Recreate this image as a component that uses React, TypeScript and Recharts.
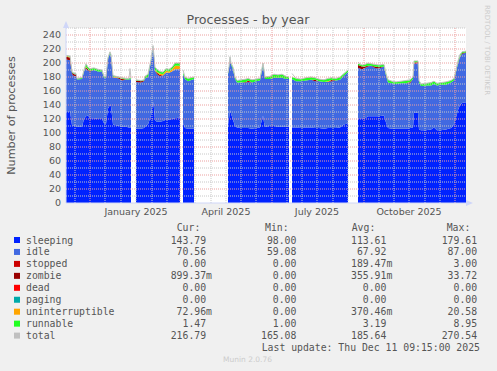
import React from 'react';
import { ComposedChart, Area, Line, XAxis, YAxis, CartesianGrid, ReferenceLine } from 'recharts';

// day index 0 = 7 Nov 2024 (one day per pixel column); null = no data (gap)
const days = [
  0, 4, 6, 7, 10, 11, 16, 18, 20, 22, 24, 28, 32, 36, 38, 40, 42, 44, 45, 47, 50, 53, 56, 60, 63, 64, 65, 67,
  70, 75, 78, 79, 82, 85, 87, 88, 89, 91, 94, 97, 100, 103, 106, 109, 114, 115.5,
  117, 119, 122, 128, 145,
  162, 163, 164, 165, 167, 169, 171, 175, 180, 182, 186, 190, 194, 197, 198, 199, 204, 208, 212, 216, 220, 223, 224.5,
  226, 230, 235, 240, 245, 249, 253, 258, 262, 266, 270, 274, 278, 282, 287,
  292, 296, 299, 302, 305, 309, 313, 318, 320, 322, 326, 330, 335, 340, 344, 347, 348, 350, 352, 353,
  355, 360, 365, 368, 371, 375, 380, 385, 388, 390, 392, 394, 396, 400,
];

const sleeping = [
  131, 131, 111, 111, 110, 109, 109, 120, 124, 125, 121, 121, 120, 120, 114, 113, 135, 140, 138, 112, 111, 110, 109, 109, 108, 108, 108, null,
  106, 106, 107, 109, 112, 125, 145, 135, 118, 116, 116, 117, 119, 119, 120, 121, 122, null,
  114, 107, 106, 106, null,
  111, 120, 133, 128, 119, 110, 108, 107, 107, 107, 106, 107, 108, 125, 115, 109, 110, 110, 109, 109, 109, 109, null,
  108, 108, 107, 108, 108, 107, 107, 106, 107, 107, 107, 108, 112, 114, null,
  121, 121, 121, 124, 124, 124, 124, 125, 115, 107, 106, 106, 106, 106, 107, 108, 129, 129, 129, 105,
  104, 104, 105, 108, 104, 104, 105, 107, 112, 122, 133, 140, 143, 144,
];

const idle = [
  74, 73, 74, 71, 71, 67.5, 68, 68, 68, 64, 67, 69, 68, 68, 65, 66.5, 71, 74, 72, 67.5, 68, 67.5, 66, 67.5, 68.5, 69, 68.5, null,
  67, 66, 67, 69, 68, 77, 78, 73, 71, 68, 65, 65, 67, 67, 68, 70, 69, null,
  70, 70, 68, 71, null,
  73, 73, 74, 70, 72, 67, 64, 65, 65, 66, 66, 67, 67, 72, 72, 68, 67, 69, 70, 70, 68, 68, null,
  69, 66, 67, 67, 68, 67, 67, 67, 66, 67, 68, 68, 70, 73, null,
  72, 70, 72, 71, 72, 69, 68, 70, 67, 65, 65, 64, 65, 65, 64, 69, 71, 70, 71, 67,
  63, 64, 63, 62, 64, 65, 64, 65, 63, 65, 67, 68, 70, 70.5,
];

const stopped = [
  0, 0, 0, 0, 0, 0, 0, 0, 0, 0, 0, 0, 0, 0, 0, 0, 0, 0, 0, 0, 0, 0, 0, 0, 0, 0, 0, null,
  0, 0, 0, 0, 0, 0, 0, 0, 0, 0, 0, 0, 0, 0, 0, 0, 0, null,
  0, 0, 0, 0, null,
  0, 0, 0, 0, 0, 0, 0, 0, 0, 2, 0, 0, 0, 0, 0, 0, 0, 0, 0, 0, 0, 0, null,
  0, 0, 0, 0, 0, 0, 0, 0, 0, 0, 0, 0, 0, 0, null,
  0, 0, 0, 0, 0, 0, 0, 0, 0, 0, 0, 0, 0, 0, 0, 0, 0, 2, 1, 0,
  0, 0, 0, 0, 0, 0, 0, 0, 0, 0, 0, 0, 0, 0,
];

const zombie = [
  4, 4, 1, 3, 3, 0, 0, 0, 2, 2, 1, 0, 0, 0, 0, 0, 0, 0, 0, 0, 0, 1.5, 2, 0, 0, 0, 0, null,
  2, 2, 1, 0, 0, 0, 0, 0, 0, 2, 2, 0, 0, 0, 0, 0, 0, null,
  0, 0, 0, 0, null,
  0, 0, 0, 0, 0, 0, 0, 0, 1, 0, 0, 0, 0, 0, 0, 0, 0, 0, 0, 0, 0, 0, null,
  0, 0, 0, 0, 0, 2, 0, 0, 0, 2, 0, 0, 0, 0, null,
  4, 4, 2, 1, 0, 2, 2, 0, 0, 0, 0, 0, 0, 0, 2, 0, 0, 0, 0, 0,
  0, 0, 0, 0, 0, 0, 0, 0, 0, 0, 0, 1, 1, 1,
];

const uninterruptible = [
  1, 1, 0.5, 0, 0, 0, 0, 0, 1, 0, 0, 0, 0, 0, 0, 0, 0, 0, 0, 1, 1, 0, 1, 0, 0, 0, 0, null,
  0, 0, 0, 0, 0, 0, 0, 0, 1, 1, 2, 2, 3, 2, 3, 5, 5, null,
  0, 0, 0, 0, null,
  0, 0, 0, 0, 0, 0, 0, 0, 0, 0, 0, 0, 0, 0, 0, 0, 0, 0, 0, 0, 0, 0, null,
  0, 0, 0, 0, 0, 0, 0, 0, 1, 0, 0, 0, 0, 0, null,
  0, 0, 0, 0, 0, 0, 0, 0, 0, 0, 0, 0, 0, 0, 0, 0, 0, 0, 0, 0,
  0, 0, 0, 0, 0, 0, 0, 0, 0, 0, 0, 0, 0, 0,
];

const runnable = [
  1, 1, 1.5, 1, 1, 1.5, 2, 2, 4, 3, 3, 3, 3, 2, 2, 1.5, 2, 2, 2, 1.5, 1, 1, 1, 1.5, 1.5, 1.5, 1.5, null,
  1, 1, 1, 3, 4, 3, 2, 2, 4, 4, 3, 3, 3, 3, 3, 4, 4, null,
  2, 3, 4, 3, null,
  2, 2, 2, 2, 3, 3, 3, 4, 4, 3, 4, 3, 3, 3, 3, 3, 4, 5, 4, 5, 4, 3, null,
  3, 4, 3, 4, 4, 3, 3, 3, 4, 3, 3, 4, 3, 3, null,
  2, 2, 3, 4, 3, 3, 3, 3, 3, 4, 3, 3, 3, 4, 3, 3, 3, 2, 2, 3,
  3, 3, 4, 4, 3, 3, 4, 3, 3, 3, 3, 3, 2, 1.5,
];

const total = [
  211, 210, 188, 186, 185, 178, 179, 190, 199, 194, 192, 193, 191, 190, 181, 181, 208, 216, 212, 182, 181, 180, 179, 178, 178, 192, 178, null,
  176, 175, 176, 181, 184, 205, 225, 210, 194, 191, 188, 187, 192, 191, 194, 200, 200, null,
  190, 180, 178, 180, null,
  186, 195, 209, 200, 194, 180, 175, 176, 177, 178, 176, 177, 178, 200, 190, 180, 181, 184, 183, 184, 181, 180, null,
  185, 178, 177, 179, 180, 179, 177, 176, 178, 179, 178, 180, 185, 190, null,
  201, 197, 198, 200, 199, 198, 197, 198, 185, 176, 174, 173, 174, 175, 176, 180, 203, 203, 203, 175,
  170, 171, 172, 174, 171, 172, 173, 175, 178, 190, 203, 212, 216, 217,
];

const yTicks = [0, 20, 40, 60, 80, 100, 120, 140, 160, 180, 200, 220, 240];
const yMinorGrid = [10, 30, 50, 70, 90, 110, 130, 150, 170, 190, 210, 230, 250];
const xTickDays = [70, 160, 251, 343];
const xTickLabels = ['January 2025', 'April 2025', 'July 2025', 'October 2025'];
const xMajorGrid = [24, 114, 206, 298, 389];
const xMinorGrid = [9, 39, 55, 70, 86, 101, 129, 145, 160, 175, 190, 221, 236, 251, 267, 282, 313, 328, 343, 359, 374];

const legendNames = ['sleeping', 'idle', 'stopped', 'zombie', 'dead', 'paging', 'uninterruptible', 'runnable', 'total'];
const legendColors = ['#0022ff', '#4169e1', '#cc0000', '#990000', '#ff0000', '#00aaaa', '#ffa500', '#22ff22', '#c0c0c0'];
const curValues = ['143.79', '70.56', '0.00', '899.37m', '0.00', '0.00', '72.96m', '1.47', '216.79'];
const minValues = ['98.00', '59.08', '0.00', '0.00', '0.00', '0.00', '0.00', '1.00', '165.08'];
const avgValues = ['113.61', '67.92', '189.47m', '355.91m', '0.00', '0.00', '370.46m', '3.19', '185.64'];
const maxValues = ['179.61', '87.00', '3.00', '33.72', '0.00', '0.00', '20.58', '8.95', '270.54'];

const rows = days.map((day, i) => ({
  day,
  sleeping: sleeping[i],
  idle: idle[i],
  stopped: stopped[i],
  zombie: zombie[i],
  uninterruptible: uninterruptible[i],
  runnable: runnable[i],
  total: total[i],
}));

const stackSeries = [
  { key: 'sleeping', color: '#0022ff' },
  { key: 'idle', color: '#4169e1' },
  { key: 'stopped', color: '#cc0000' },
  { key: 'zombie', color: '#990000' },
  { key: 'uninterruptible', color: '#ffa500' },
  { key: 'runnable', color: '#22ff22' },
];

const fmt = (s: string) => (s.endsWith('m') ? s.slice(0, -1).padStart(6) + 'm' : s.padStart(6));

const FONT = 'DejaVu Sans, sans-serif';
const MONO = 'DejaVu Sans Mono, monospace';
const TXT = '#555555';

export default function App() {
  const rowY0 = 242;
  const rowStep = 11.95;
  return (
    <div style={{ position: 'absolute', left: 0, top: 0, width: 497, height: 371, background: '#f0f0f0' }}>
      <div style={{ position: 'absolute', left: 0, top: 0 }}>
        <ComposedChart width={497} height={371} data={rows} margin={{ top: 28, right: 31, bottom: 148, left: 30 }}>
          <CartesianGrid horizontal={false} vertical={false} fill="#ffffff" stroke="none" />
          <XAxis
            dataKey="day"
            type="number"
            domain={[0, 400]}
            ticks={xTickDays}
            interval={0}
            tickFormatter={(v: number) => xTickLabels[xTickDays.indexOf(v)] ?? ''}
            tickSize={0}
            tickMargin={5}
            height={20}
            axisLine={{ stroke: '#cfd6f8' }}
            tick={{ fill: TXT, fontSize: 9.5, fontFamily: FONT }}
            allowDataOverflow
          />
          <YAxis
            type="number"
            domain={[0, 250]}
            ticks={yTicks}
            interval={0}
            width={36}
            tickSize={0}
            tickMargin={5}
            axisLine={{ stroke: '#cfd6f8' }}
            tick={{ fill: TXT, fontSize: 9.5, fontFamily: FONT }}
            allowDataOverflow
          />
          {stackSeries.map((s) => (
            <Area
              key={s.key}
              dataKey={s.key}
              stackId="a"
              type="linear"
              fill={s.color}
              fillOpacity={1}
              stroke="none"
              isAnimationActive={false}
              dot={false}
              activeDot={false}
            />
          ))}
          <Line
            dataKey="total"
            type="linear"
            stroke="#c0c0c0"
            strokeWidth={1}
            dot={false}
            activeDot={false}
            isAnimationActive={false}
          />
          {yMinorGrid.map((v) => (
            <ReferenceLine key={'ym' + v} y={v} stroke="#c8c8c8" strokeDasharray="1 1" ifOverflow="visible" />
          ))}
          {yTicks.slice(1).map((v) => (
            <ReferenceLine key={'yM' + v} y={v} stroke="#eca0a0" strokeDasharray="1 1" ifOverflow="visible" />
          ))}
          {xMinorGrid.map((v) => (
            <ReferenceLine key={'xm' + v} x={v} stroke="#c8c8c8" strokeDasharray="1 1" ifOverflow="visible" />
          ))}
          {xMajorGrid.map((v) => (
            <ReferenceLine key={'xM' + v} x={v} stroke="#eca0a0" strokeDasharray="1 1" ifOverflow="visible" />
          ))}
        </ComposedChart>
      </div>
      <svg width={497} height={371} style={{ position: 'absolute', left: 0, top: 0, pointerEvents: 'none' }}>
        <text x={248} y={24} textAnchor="middle" fontFamily={FONT} fontSize={12.7} fill={TXT}>
          Processes - by year
        </text>
        <text
          transform="translate(15,115.5) rotate(-90)"
          textAnchor="middle"
          fontFamily={FONT}
          fontSize={11.2}
          fill={TXT}
        >
          Number of processes
        </text>
        <text transform="translate(485,5) rotate(90)" fontFamily={FONT} fontSize={7} fill="#cccccc">
          RRDTOOL / TOBI OETIKER
        </text>
        <polygon points="66,21 63,28 69,28" fill="#cfd6f8" />
        <polygon points="473,203 466,200 466,206" fill="#cfd6f8" />
        <g fontFamily={MONO} fontSize={9.8} fill={TXT} style={{ whiteSpace: 'pre' }}>
          <text x={176.7} y={230.5}>Cur:</text>
          <text x={265} y={230.5}>Min:</text>
          <text x={351.7} y={230.5}>Avg:</text>
          <text x={446.7} y={230.5}>Max:</text>
          {legendNames.map((name, i) => {
            const y = rowY0 + i * rowStep;
            return (
              <g key={name}>
                <rect x={14} y={y - 5} width={6} height={6} fill={legendColors[i]} />
                <text x={26} y={y + 1.5}>{name}</text>
                <text x={170.7} y={y + 1.5} xmlSpace="preserve">{fmt(curValues[i])}</text>
                <text x={261} y={y + 1.5} xmlSpace="preserve">{fmt(minValues[i])}</text>
                <text x={351} y={y + 1.5} xmlSpace="preserve">{fmt(avgValues[i])}</text>
                <text x={441.7} y={y + 1.5} xmlSpace="preserve">{fmt(maxValues[i])}</text>
              </g>
            );
          })}
          <text x={261.7} y={351}>Last update: Thu Dec 11 09:15:00 2025</text>
        </g>
        <text x={247.5} y={362} textAnchor="middle" fontFamily={FONT} fontSize={7.5} fill="#cccccc">
          Munin 2.0.76
        </text>
      </svg>
    </div>
  );
}
